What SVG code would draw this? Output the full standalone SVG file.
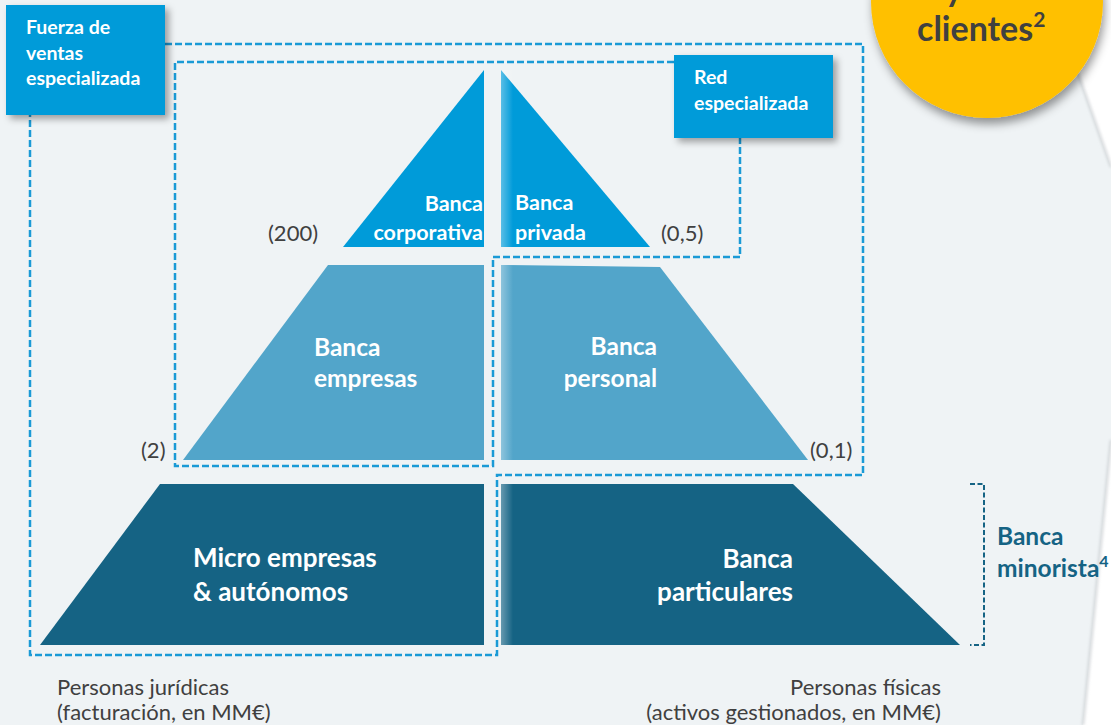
<svg xmlns="http://www.w3.org/2000/svg" width="1111" height="725" viewBox="0 0 1111 725">
<defs>
<filter id="sh" x="-20%" y="-20%" width="150%" height="150%"><feDropShadow dx="4" dy="4" stdDeviation="3.5" flood-color="#000" flood-opacity="0.35"/></filter>
<filter id="shc" x="-20%" y="-20%" width="150%" height="150%"><feDropShadow dx="2" dy="6" stdDeviation="5" flood-color="#000" flood-opacity="0.4"/></filter>
<filter id="blur1"><feGaussianBlur stdDeviation="1.5"/></filter>
<linearGradient id="fadeL" x1="0" y1="0" x2="1" y2="0">
<stop offset="0" stop-color="#ffffff" stop-opacity="0.35"/>
<stop offset="1" stop-color="#ffffff" stop-opacity="0"/>
</linearGradient>
<style>
.bg{fill:#eff3f5}
.t1{fill:#009bd9}
.t2{fill:#52a5ca}
.t3{fill:#156384}
.box{fill:#009bd9}
.wl{font-family:Lato,"Open Sans","Liberation Sans",sans-serif;font-weight:700;fill:#ffffff}
.num{font-family:Lato,"Open Sans","Liberation Sans",sans-serif;font-size:22px;fill:#404040}
.dash{fill:none;stroke:#1a9ad6;stroke-width:2.5;stroke-dasharray:7 3}
.dashd{fill:none;stroke:#156384;stroke-width:2;stroke-dasharray:5 2.5}
.blue{font-family:Lato,"Open Sans","Liberation Sans",sans-serif;font-weight:700;font-size:24.5px;fill:#156384}
.dark{font-family:Lato,"Open Sans","Liberation Sans",sans-serif;font-weight:700;font-size:34px;fill:#404040}
</style>
</defs>
<rect class="bg" x="0" y="0" width="1111" height="725"/>
<g id="edge">
<path d="M1052,0 L1111,0 L1111,167 Z M1111,440 L1111,725 L1083,725 Z" fill="#ffffff"/>
<path d="M1052,0 L1111,167 M1111,440 L1083,725" stroke="#c9cdd0" stroke-width="2" fill="none" filter="url(#blur1)"/>
</g>

<g id="connectors">
<path class="dash" d="M165,44 L863,44 L863,475 L497,475 L497,655 L30,655 L30,115"/>
<path class="dash" d="M674,62 L175,62 L175,466 L493,466 L493,257 L740,257 L740,138"/>
<path class="dashd" d="M970,484 L984,484 L984,645 L970,645"/>
</g>

<g id="corporativa">
<polygon class="t1" points="484,70 484,247 343,247"/>
<text class="wl" font-size="21.5" text-anchor="end" x="483" y="211">Banca</text>
<text class="wl" font-size="21.5" text-anchor="end" x="483" y="240">corporativa</text>
<text class="num" x="268" y="241">(200)</text>
</g>
<g id="privada">
<polygon class="t1" points="501,70 650,247 501,247"/>
<rect x="501" y="70" width="12" height="177" fill="url(#fadeL)"/>
<text class="wl" font-size="21.5" x="515" y="210">Banca</text>
<text class="wl" font-size="21.5" x="515" y="240">privada</text>
<text class="num" x="661" y="241">(0,5)</text>
</g>
<g id="empresas">
<polygon class="t2" points="328,265 484,265 484,460 183,460"/>
<text class="wl" font-size="24.5" x="314" y="356">Banca</text>
<text class="wl" font-size="24.5" x="314" y="387">empresas</text>
<text class="num" x="141" y="458">(2)</text>
</g>
<g id="personal">
<polygon class="t2" points="501,265 660,267 808,460 501,460"/>
<rect x="501" y="265" width="12" height="195" fill="url(#fadeL)"/>
<text class="wl" font-size="24.5" text-anchor="end" x="657" y="355">Banca</text>
<text class="wl" font-size="24.5" text-anchor="end" x="657" y="387">personal</text>
<text class="num" x="810" y="458">(0,1)</text>
</g>
<g id="micro">
<polygon class="t3" points="160,484 484,484 484,645 40,645"/>
<text class="wl" font-size="26" x="193" y="567">Micro empresas</text>
<text class="wl" font-size="26" x="193" y="601">&amp; autónomos</text>
</g>
<g id="particulares">
<polygon class="t3" points="501,484 793,484 960,645 501,645"/>
<rect x="501" y="484" width="12" height="161" fill="url(#fadeL)"/>
<text class="wl" font-size="26" text-anchor="end" x="793" y="568">Banca</text>
<text class="wl" font-size="26" text-anchor="end" x="793" y="601">particulares</text>
</g>
<g id="minorista">
<text class="blue" x="997" y="545">Banca</text>
<text class="blue" x="997" y="577">minorista<tspan font-size="16" dy="-10">4</tspan></text>
</g>
<g id="fuerza">
<rect class="box" x="6" y="5" width="159" height="110" filter="url(#sh)"/>
<text class="wl" font-size="19.5" x="26" y="34">Fuerza de</text>
<text class="wl" font-size="19.5" x="26" y="60">ventas</text>
<text class="wl" font-size="19.5" x="26" y="85">especializada</text>
</g>
<g id="red">
<rect class="box" x="674" y="55" width="159" height="83" filter="url(#sh)"/>
<text class="wl" font-size="19.5" x="694" y="84">Red</text>
<text class="wl" font-size="19.5" x="694" y="110">especializada</text>
</g>
<g id="clientes">
<circle cx="987" cy="2" r="116" fill="#ffc000" filter="url(#shc)"/>
<text class="dark" x="945" y="1">y</text>
<text class="dark" x="917" y="41">clientes<tspan font-size="21" dy="-14">2</tspan></text>
</g>
<g id="ejes">
<text class="num" x="57" y="695">Personas jurídicas</text>
<text class="num" x="57" y="720">(facturación, en MM€)</text>
<text class="num" text-anchor="end" x="941" y="695">Personas físicas</text>
<text class="num" text-anchor="end" x="941" y="720">(activos gestionados, en MM€)</text>
</g>
</svg>
